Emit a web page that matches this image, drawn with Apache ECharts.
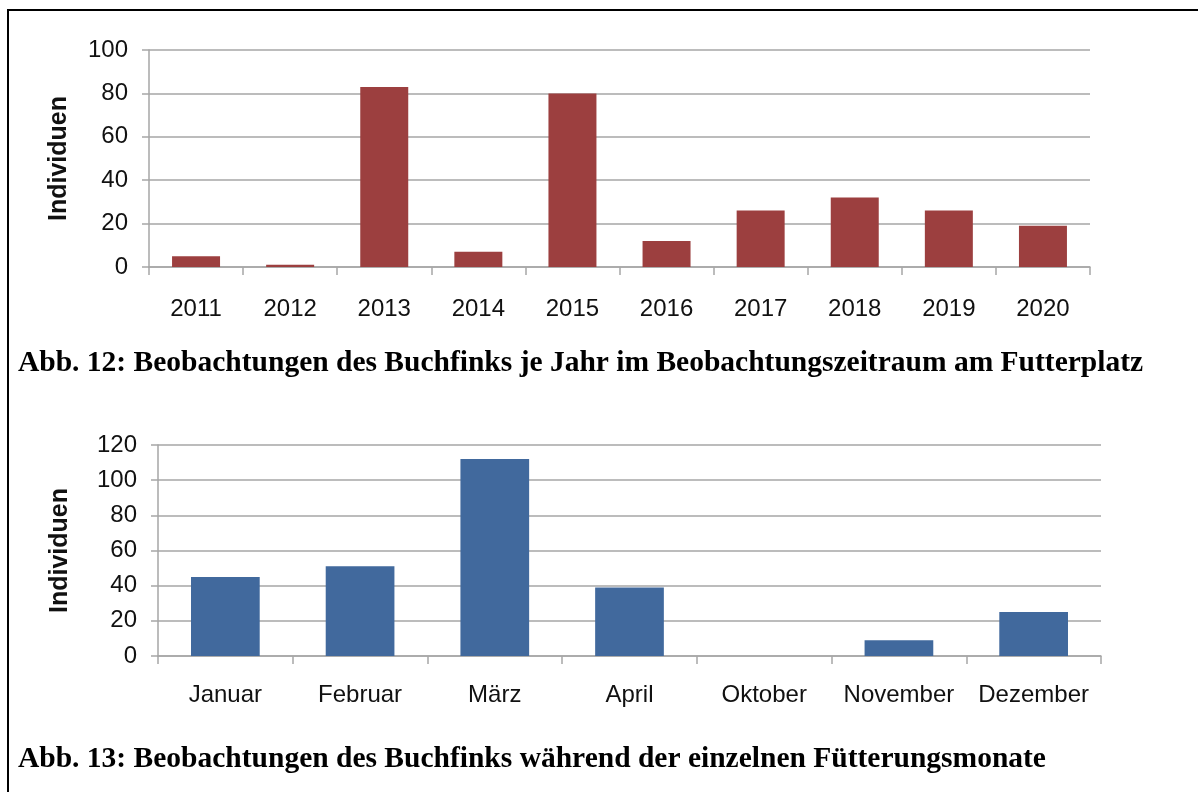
<!DOCTYPE html>
<html>
<head>
<meta charset="utf-8">
<script src="https://cdn.jsdelivr.net/npm/echarts@6/dist/echarts.min.js"></script>
<style>
  html, body { margin: 0; padding: 0; background: #fff; }
  #chart { width: 1198px; height: 792px; }
</style>
</head>
<body>
<div id="chart"></div>
<script>
// === Daten ===
const years = ['2011', '2012', '2013', '2014', '2015', '2016', '2017', '2018', '2019', '2020']
const yearCounts = [5, 1, 83, 7, 80, 12, 26, 32, 26, 19]
const months = ['Januar', 'Februar', 'März', 'April', 'Oktober', 'November', 'Dezember']
const monthCounts = [45, 51, 112, 39, 0, 9, 25]

const caption12 = 'Abb. 12: Beobachtungen des Buchfinks je Jahr im Beobachtungszeitraum am Futterplatz'
const caption13 = 'Abb. 13: Beobachtungen des Buchfinks während der einzelnen Fütterungsmonate'

const sans = 'Liberation Sans, Arial, sans-serif'
const serif = 'Liberation Serif, Times New Roman, serif'
const gray = '#a6a6a6'

function catAxis(gridIndex, data, margin) {
  return {
    type: 'category',
    gridIndex,
    data,
    axisLine: { lineStyle: { color: gray, width: 1.5 } },
    axisTick: { show: true, length: 8, lineStyle: { color: gray, width: 1.5 } },
    axisLabel: { fontFamily: sans, fontSize: 24, color: '#111', margin, interval: 0 },
  }
}

function valAxis(gridIndex, max, nameGap) {
  return {
    type: 'value',
    gridIndex,
    min: 0,
    max,
    interval: 20,
    name: 'Individuen',
    nameLocation: 'middle',
    nameGap,
    nameTextStyle: { fontFamily: sans, fontSize: 25, fontWeight: 'bold', color: '#111' },
    axisLine: { show: true, lineStyle: { color: gray, width: 1.5 } },
    axisTick: { show: true, length: 7, lineStyle: { color: gray, width: 1.5 } },
    axisLabel: { fontFamily: sans, fontSize: 24, color: '#111', margin: 21 },
    splitLine: { lineStyle: { color: gray, width: 1.5 } },
  }
}

const chart = echarts.init(document.getElementById('chart'))

const captionStyle = { fontFamily: serif, fontSize: 29.5, fontWeight: 'bold', color: '#000' }

chart.setOption({
  animation: false,
  title: [
    { text: caption12, left: 18, top: 348, padding: 0, textStyle: captionStyle },
    { text: caption13, left: 18, top: 744, padding: 0, textStyle: captionStyle },
  ],
  graphic: [
    {
      type: 'rect',
      shape: { x: 8, y: 10, width: 1210, height: 800 },
      style: { fill: 'none', stroke: '#000', lineWidth: 2 },
      silent: true,
    },
  ],
  grid: [
    { left: 149, top: 50, width: 941, height: 217 },
    { left: 158, top: 445, width: 943, height: 211 },
  ],
  xAxis: [catAxis(0, years, 30), catAxis(1, months, 27)],
  yAxis: [valAxis(0, 100, 77), valAxis(1, 120, 85)],
  series: [
    {
      type: 'bar',
      xAxisIndex: 0,
      yAxisIndex: 0,
      data: yearCounts,
      barWidth: '51%',
      itemStyle: { color: '#9c3f3f' },
    },
    {
      type: 'bar',
      xAxisIndex: 1,
      yAxisIndex: 1,
      data: monthCounts,
      barWidth: '51%',
      itemStyle: { color: '#41699d' },
    },
  ],
})
</script>
</body>
</html>
